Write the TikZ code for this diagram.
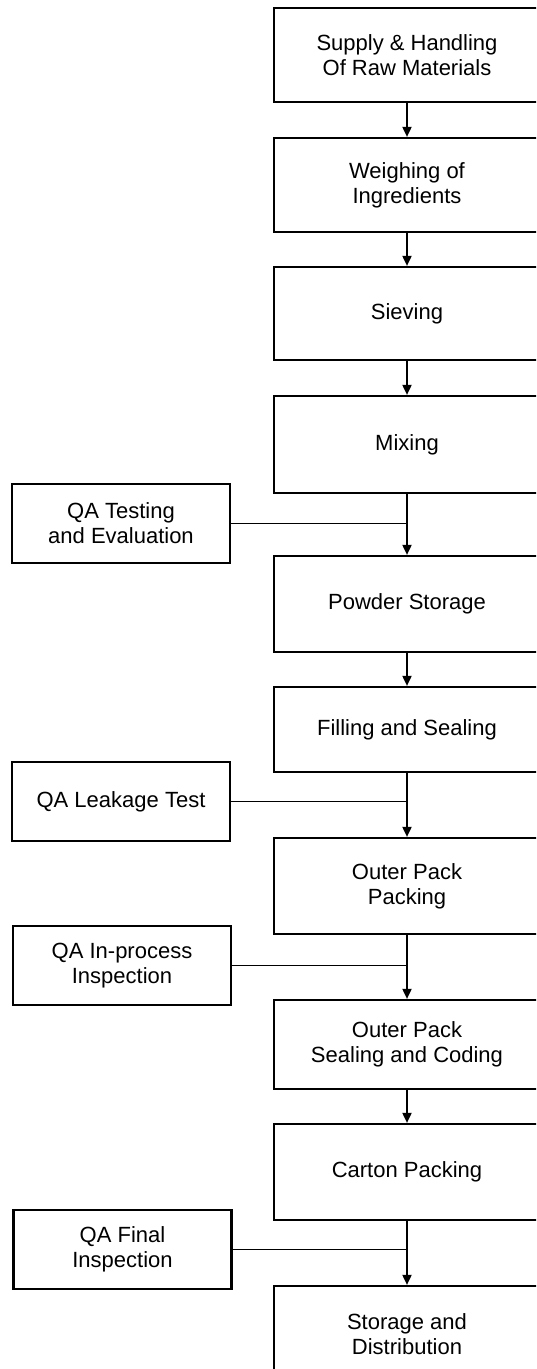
\documentclass[tikz,border=0pt]{standalone}
\usepackage{fontspec}
\setmainfont{Liberation Sans}
\usetikzlibrary{arrows.meta}
\begin{document}
\begin{tikzpicture}[x=1pt,y=1pt,
  mainbox/.style={draw=black,line width=2.2pt,minimum width=266pt,inner sep=0pt,
    align=center,font=\fontsize{22}{25}\selectfont},
  qabox/.style={draw=black,line width=2.2pt,minimum width=218pt,minimum height=79pt,inner sep=0pt,
    align=center,font=\fontsize{22}{25}\selectfont},
  flow/.style={line width=1.8pt,-{Triangle[width=9pt,length=10pt]}},
  link/.style={line width=1.8pt}]
\clip (0,0) rectangle (536,-1369);
\fill[white] (0,0) rectangle (536,-1369);
% main process boxes
\node[mainbox,minimum height=94pt] (b1) at (407,-55) {Supply \& Handling\\Of Raw Materials};
\node[mainbox,minimum height=94pt] (b2) at (407,-185) {Weighing of\\Ingredients};
\node[mainbox,minimum height=93pt] (b3) at (407,-313.5) {Sieving};
\node[mainbox,minimum height=97pt] (b4) at (407,-444.5) {Mixing};
\node[mainbox,minimum height=96pt] (b5) at (407,-604) {Powder Storage};
\node[mainbox,minimum height=85pt] (b6) at (407,-729.5) {Filling and Sealing};
\node[mainbox,minimum height=96pt] (b7) at (407,-886) {Outer Pack\\Packing};
\node[mainbox,minimum height=89pt] (b8) at (407,-1044.5) {Outer Pack\\Sealing and Coding};
\node[mainbox,minimum height=96pt] (b9) at (407,-1172) {Carton Packing};
\node[mainbox,minimum height=96pt] (b10) at (407,-1334) {Storage and\\Distribution};
% QA boxes
\node[qabox] (q1) at (121,-523.5) {QA Testing\\and Evaluation};
\node[qabox] (q2) at (121,-801.5) {QA Leakage Test};
\node[qabox] (q3) at (122,-965.5) {QA In-process\\Inspection};
\node[qabox] (q4) at (122.5,-1249.5) {QA Final\\Inspection};
% flow arrows
\draw[flow] (b1.south) -- (b2.north);
\draw[flow] (b2.south) -- (b3.north);
\draw[flow] (b3.south) -- (b4.north);
\draw[flow] (b4.south) -- (b5.north);
\draw[flow] (b5.south) -- (b6.north);
\draw[flow] (b6.south) -- (b7.north);
\draw[flow] (b7.south) -- (b8.north);
\draw[flow] (b8.south) -- (b9.north);
\draw[flow] (b9.south) -- (b10.north);
% QA links
\draw[link] (q1.east) -- (q1.east -| b4.south);
\draw[link] (q2.east) -- (q2.east -| b6.south);
\draw[link] (q3.east) -- (q3.east -| b7.south);
\draw[link] (q4.east) -- (q4.east -| b9.south);
\end{tikzpicture}
\end{document}
